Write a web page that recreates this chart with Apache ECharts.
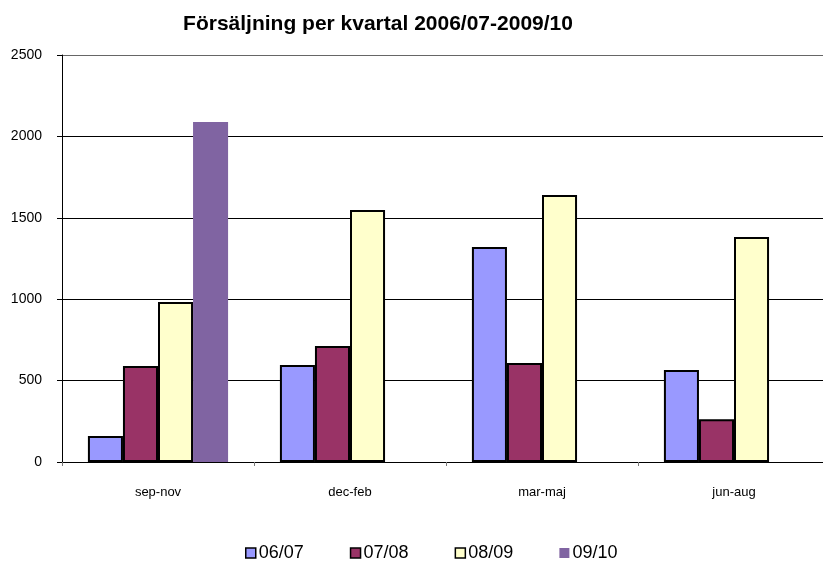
<!DOCTYPE html>
<html><head><meta charset="utf-8">
<script src="https://cdn.jsdelivr.net/npm/echarts@6/dist/echarts.min.js"></script>
<style>html,body{margin:0;padding:0;background:#fff;overflow:hidden;width:823px;height:563px}#c{width:840px;height:563px}</style>
</head><body><div id="c"></div>
<script>
const categories = ['sep-nov', 'dec-feb', 'mar-maj', 'jun-aug'];
const seriesNames = ['06/07', '07/08', '08/09', '09/10'];
const s0607 = [160, 596, 1321, 565];
const s0708 = [590, 712, 608, 262];
const s0809 = [983, 1548, 1640, 1382];
const s0910 = [2088, null, null, null];
const yTicks = [0, 500, 1000, 1500, 2000, 2500];

const colors = ['#9999FF', '#993366', '#FFFFCC', '#8064A2'];
const borders = [true, true, true, false];
const dataSets = [s0607, s0708, s0809, s0910];
const font = '"Liberation Sans", Arial, sans-serif';

const chart = echarts.init(document.getElementById('c'));
chart.setOption({
  animation: false,
  title: {
    text: 'Försäljning per kvartal 2006/07-2009/10',
    left: 373, top: 9, textAlign: 'center',
    textStyle: { fontFamily: font, fontSize: 21, fontWeight: 'bold', color: '#000' }
  },
  legend: {
    bottom: -4, left: 240,
    itemWidth: 10, itemHeight: 10, itemGap: 46,
    textStyle: { fontFamily: font, fontSize: 18, color: '#000', padding: [0, 0, 0, -2] },
    data: seriesNames.map((n, i) => ({
      name: n,
      icon: 'rect',
      itemStyle: borders[i] ? { borderColor: '#000', borderWidth: 1.5 } : { borderWidth: 0 }
    }))
  },
  grid: { left: 62, width: 768, top: 55, height: 407, containLabel: false },
  xAxis: {
    type: 'category', data: categories,
    axisLine: { lineStyle: { color: '#000', width: 1 } },
    axisTick: { show: true, length: 4, lineStyle: { color: '#777' } },
    axisLabel: { fontFamily: font, fontSize: 13, color: '#000', margin: 24 }
  },
  yAxis: {
    type: 'value', min: 0, max: 2500, interval: 500,
    axisLine: { show: true, lineStyle: { color: '#000', width: 1 } },
    axisTick: { show: true, length: 5, inside: false, lineStyle: { color: '#000' } },
    axisLabel: { fontFamily: font, fontSize: 14, color: '#000', margin: 20,
      formatter: v => yTicks.includes(v) ? String(v) : '' },
    splitLine: { show: true, lineStyle: { color: ['#000', '#000', '#000', '#000', '#000', '#666'], width: 1 } }
  },
  series: seriesNames.map((n, i) => ({
    name: n, type: 'bar', data: dataSets[i],
    barGap: '0%', barCategoryGap: '27%',
    itemStyle: {
      color: colors[i],
      borderColor: borders[i] ? '#000' : colors[i],
      borderWidth: borders[i] ? 2 : 0
    }
  }))
});
</script></body></html>
